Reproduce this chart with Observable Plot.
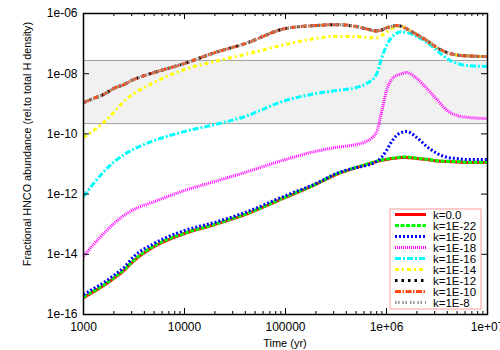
<!DOCTYPE html>
<html><head><meta charset="utf-8">
<script src="https://cdn.jsdelivr.net/npm/d3@7"></script>
<script src="https://cdn.jsdelivr.net/npm/@observablehq/plot@0.6"></script>
<style>
body{margin:0;background:#fff;}
#chart{position:relative;width:500px;height:350px;}
</style></head><body><div id="chart"></div>
<script>
// Time grid (yr)
const times = [1000,1259,1585,1995,2512,3162,5012,10000,19953,39811,100000,199526,316228,501187,630957,794328,891251,1000000,1122018,1258925,1412538,1584893,1995262,2511886,3162278,3981072,5011872,6309573,10000000];

const seriesNames = ["k=0.0","k=1E-22","k=1E-20","k=1E-18","k=1E-16","k=1E-14","k=1E-12","k=1E-10","k=1E-8"];

// log10 of fractional abundance
const k0   = [-15.44,-15.24,-15.04,-14.80,-14.54,-14.21,-13.74,-13.31,-13.01,-12.68,-12.11,-11.68,-11.35,-11.12,-11.02,-10.92,-10.88,-10.85,-10.82,-10.80,-10.78,-10.78,-10.82,-10.85,-10.90,-10.92,-10.93,-10.95,-10.95];
const k22  = [-15.42,-15.22,-15.02,-14.78,-14.52,-14.19,-13.72,-13.30,-13.00,-12.67,-12.10,-11.67,-11.34,-11.11,-11.01,-10.91,-10.87,-10.84,-10.81,-10.79,-10.77,-10.77,-10.81,-10.84,-10.89,-10.91,-10.92,-10.94,-10.94];
const k20  = [-15.34,-15.14,-14.94,-14.70,-14.44,-14.07,-13.64,-13.21,-12.94,-12.61,-12.05,-11.65,-11.32,-11.12,-11.05,-10.92,-10.78,-10.55,-10.26,-10.05,-9.95,-9.92,-10.12,-10.42,-10.65,-10.78,-10.82,-10.85,-10.85];
const k18  = [-14.07,-13.67,-13.31,-12.98,-12.71,-12.51,-12.25,-11.88,-11.58,-11.28,-10.85,-10.58,-10.45,-10.35,-10.25,-9.95,-9.29,-8.56,-8.19,-8.06,-8.00,-7.96,-8.16,-8.49,-8.86,-9.22,-9.39,-9.45,-9.49];
const k16  = [-12.08,-11.65,-11.26,-10.94,-10.69,-10.50,-10.22,-9.92,-9.69,-9.42,-8.89,-8.66,-8.56,-8.46,-8.33,-8.03,-7.50,-7.06,-6.80,-6.66,-6.61,-6.63,-6.76,-6.96,-7.23,-7.50,-7.66,-7.73,-7.76];
const k14  = [-10.12,-9.89,-9.62,-9.29,-8.92,-8.66,-8.29,-7.86,-7.59,-7.36,-7.03,-6.83,-6.76,-6.76,-6.80,-6.81,-6.73,-6.63,-6.50,-6.43,-6.43,-6.51,-6.70,-6.90,-7.13,-7.30,-7.38,-7.41,-7.43];
const k12  = [-8.96,-8.82,-8.69,-8.49,-8.36,-8.19,-7.96,-7.66,-7.30,-7.00,-6.50,-6.40,-6.37,-6.43,-6.51,-6.58,-6.55,-6.48,-6.43,-6.40,-6.43,-6.51,-6.70,-6.90,-7.13,-7.30,-7.38,-7.41,-7.43];
const k10  = [-8.96,-8.82,-8.69,-8.49,-8.36,-8.19,-7.96,-7.66,-7.30,-7.00,-6.50,-6.40,-6.37,-6.43,-6.51,-6.58,-6.55,-6.48,-6.43,-6.40,-6.43,-6.51,-6.70,-6.90,-7.13,-7.30,-7.38,-7.41,-7.43];
const k8   = [-8.96,-8.82,-8.69,-8.49,-8.36,-8.19,-7.96,-7.66,-7.30,-7.00,-6.50,-6.40,-6.37,-6.43,-6.51,-6.58,-6.55,-6.48,-6.43,-6.40,-6.43,-6.51,-6.70,-6.90,-7.13,-7.30,-7.38,-7.41,-7.43];
const seriesValues = [k0,k22,k20,k18,k16,k14,k12,k10,k8];

// Shaded observed range
const bandLow = 2.2e-10;
const bandHigh = 2.75e-8;

const xTickValues = [1000,10000,100000,1000000,10000000];
const xTickLabels = ["1000","10000","100000","1e+06","1e+07"];
const yTickValues = [1e-16,1e-14,1e-12,1e-10,1e-8,1e-6];
const yTickLabels = ["1e-16","1e-14","1e-12","1e-10","1e-08","1e-06"];
const xMinorTicks = [2000,3000,4000,5000,6000,7000,8000,9000,20000,30000,40000,50000,60000,70000,80000,90000,200000,300000,400000,500000,600000,700000,800000,900000,2000000,3000000,4000000,5000000,6000000,7000000,8000000,9000000];

const xTitle = "Time (yr)";
const yTitle = "Fractional HNCO abundance (rel.to total H density)";

// styles
const colors = ["#ff0000","#00ff00","#0000ff","#ff00ff","#00ffff","#ffff00","#000000","#ff4a10","#909090"];
const dashes = ["none","4,1.5","2,2","1,1","6,2,2,2","4,3,2,3","2.5,4","6,1.5,1.5,1.5","1.5,1.5,1.5,3"];

const table = [];
seriesNames.forEach((name, s) => {
  seriesValues[s].forEach((v, i) => table.push({series: name, s, t: times[i], v: Math.pow(10, v)}));
});

const W = 500, H = 350, mL = 83, mR = 13, mT = 13, mB = 36;
const pw = W - mL - mR, ph = H - mT - mB;
const font = "'Liberation Sans', Arial, sans-serif";
const xLab = new Map(xTickValues.map((d,i)=>[d, xTickLabels[i]]));
const yLab = new Map(yTickValues.map((d,i)=>[d, yTickLabels[i]]));

const lineMarks = seriesNames.map((name, s) =>
  Plot.line(table.filter(d => d.s === s), {
    x: "t", y: "v", stroke: colors[s], strokeWidth: 3,
    strokeDasharray: dashes[s], curve: "monotone-x", strokeLinecap: "butt"
  })
);

const chart = Plot.plot({
  width: W, height: H,
  marginLeft: mL, marginRight: mR, marginTop: mT, marginBottom: mB,
  style: {fontFamily: font, fontSize: "12px", color: "#000", background: "#fff", overflow: "visible"},
  x: {type: "log", domain: [1000, 1e7]},
  y: {type: "log", domain: [1e-16, 1e-6]},
  marks: [
    Plot.rectY([{lo: bandLow, hi: bandHigh}], {y1: "lo", y2: "hi", fill: "#f1f1f1"}),
    Plot.ruleY([bandLow, bandHigh], {stroke: "#a0a0a0", strokeWidth: 1}),
    ...lineMarks,
    Plot.ruleX(xTickValues, {x: d => d, insetTop: ph - 6, stroke: "#000"}),
    Plot.ruleX(xTickValues, {x: d => d, insetBottom: ph - 6, stroke: "#000"}),
    Plot.ruleX(xMinorTicks, {x: d => d, insetTop: ph - 3, stroke: "#000"}),
    Plot.ruleX(xMinorTicks, {x: d => d, insetBottom: ph - 3, stroke: "#000"}),
    Plot.ruleY(yTickValues, {y: d => d, insetRight: pw - 6, stroke: "#000"}),
    Plot.ruleY(yTickValues, {y: d => d, insetLeft: pw - 6, stroke: "#000"}),
    Plot.frame({stroke: "#000", strokeWidth: 1.5}),
    Plot.axisX(xTickValues, {tickSize: 0, tickPadding: 8, tickFormat: d => xLab.get(d), label: null, fontSize: 12}),
    Plot.axisY(yTickValues, {tickSize: 0, tickPadding: 6, tickFormat: d => yLab.get(d), label: null, fontSize: 12})
  ]
});

const svg = d3.select(chart);
// Axis titles
svg.append("text").attr("x", mL + pw / 2).attr("y", 343).attr("dy", "0.35em")
  .attr("text-anchor", "middle").attr("font-family", font).attr("font-size", 11).attr("fill", "#000").text(xTitle);
svg.append("text").attr("transform", "translate(27,144) rotate(-90)").attr("dy", "0.35em")
  .attr("text-anchor", "middle").attr("font-family", font).attr("font-size", 10.8).attr("fill", "#000").text(yTitle);

// Legend box inside the plot
const lg = svg.append("g").attr("font-family", font).attr("font-size", 11.5).attr("text-anchor", "start");
lg.append("rect").attr("x", 390).attr("y", 209).attr("width", 91).attr("height", 100)
  .attr("fill", "#fff").attr("stroke", "#ff9c9c").attr("stroke-width", 1);
seriesNames.forEach((name, s) => {
  const y = 214.5 + s * 11;
  lg.append("line").attr("x1", 395).attr("x2", 426).attr("y1", y).attr("y2", y)
    .attr("stroke", colors[s]).attr("stroke-width", 3)
    .attr("stroke-dasharray", dashes[s] === "none" ? null : dashes[s]);
  lg.append("text").attr("x", 433).attr("y", y).attr("dy", "0.35em").attr("fill", "#000").text(name);
});

document.getElementById("chart").appendChild(chart);
</script></body></html>
